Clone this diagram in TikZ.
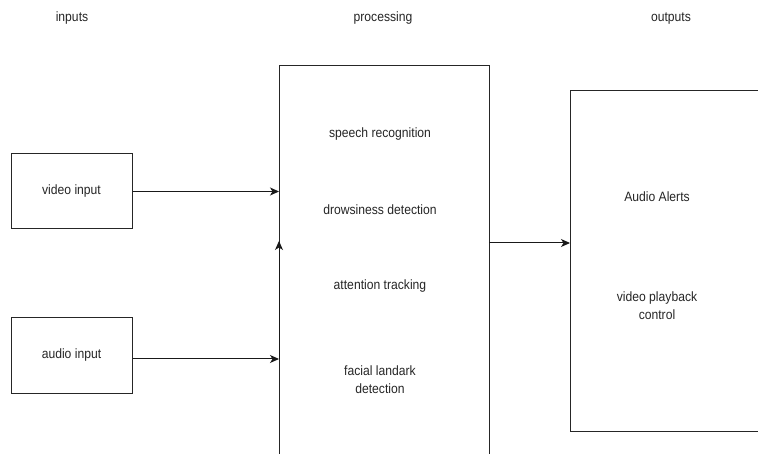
\documentclass[tikz,border=0pt]{standalone}
\usepackage{fontspec}
\setmainfont{Liberation Sans}[FakeStretch=0.9]
\usetikzlibrary{arrows.meta}
\begin{document}
\begin{tikzpicture}[x=1pt,y=-1pt,
  lbl/.style={font=\fontsize{13.5}{18}\selectfont, text=black!85, inner sep=0pt, align=center},
  inbox/.style={draw=black!85, line width=1pt, minimum width=121pt, minimum height=75pt, inner sep=0pt, font=\fontsize{13.5}{18}\selectfont, text=black!85},
  frame/.style={draw=black!85, line width=1pt},
  conn/.style={draw=black!90, line width=1pt, -{Stealth[length=9pt,width=8pt,inset=2.5pt]}}]
\useasboundingbox (0,0) rectangle (758,454);
\clip (0,0) rectangle (758,454);
\fill[white] (0,0) rectangle (758,454);
% headings
\node[lbl] (hin) at (72,18) {inputs};
\node[lbl] (hproc) at (383,18) {processing};
\node[lbl] (hout) at (671,19) {outputs};
% input boxes
\node[inbox] (video) at (71.5,191.5) {video input};
\node[inbox] (audio) at (71.5,355.5) {audio input};
% processing frame (open at bottom)
\coordinate (pbl) at (279,470);
\coordinate (ptl) at (279,66);
\coordinate (ptr) at (489,66);
\coordinate (pbr) at (489,470);
\draw[frame] (pbl) -- (ptl) -- (ptr) -- (pbr);
% output frame (open at right)
\coordinate (otr) at (770,91);
\coordinate (otl) at (570,91);
\coordinate (obl) at (570,431);
\coordinate (obr) at (770,431);
\draw[frame] (otr) -- (otl) -- (obl) -- (obr);
% processing texts
\node[lbl] (speech) at (380,134) {speech recognition};
\node[lbl] (drowsy) at (380,210) {drowsiness detection};
\node[lbl] (attn) at (380,286) {attention tracking};
\node[lbl] (facial) at (380,380) {facial landark\\detection};
% output texts
\node[lbl] (alerts) at (657,197) {Audio Alerts};
\node[lbl] (playback) at (657,306) {video playback\\control};
% connector end points
\coordinate (vin) at (279,191.5);
\coordinate (ain) at (279,359);
\coordinate (aup) at (279,241);
\coordinate (pout) at (489,243);
\coordinate (oin) at (570,243);
\draw[conn] (video.east) -- (vin);
\draw[conn] (audio.east |- ain) -- (ain);
\draw[conn] (ain) -- (aup);
\draw[conn] (pout) -- (oin);
\end{tikzpicture}
\end{document}
